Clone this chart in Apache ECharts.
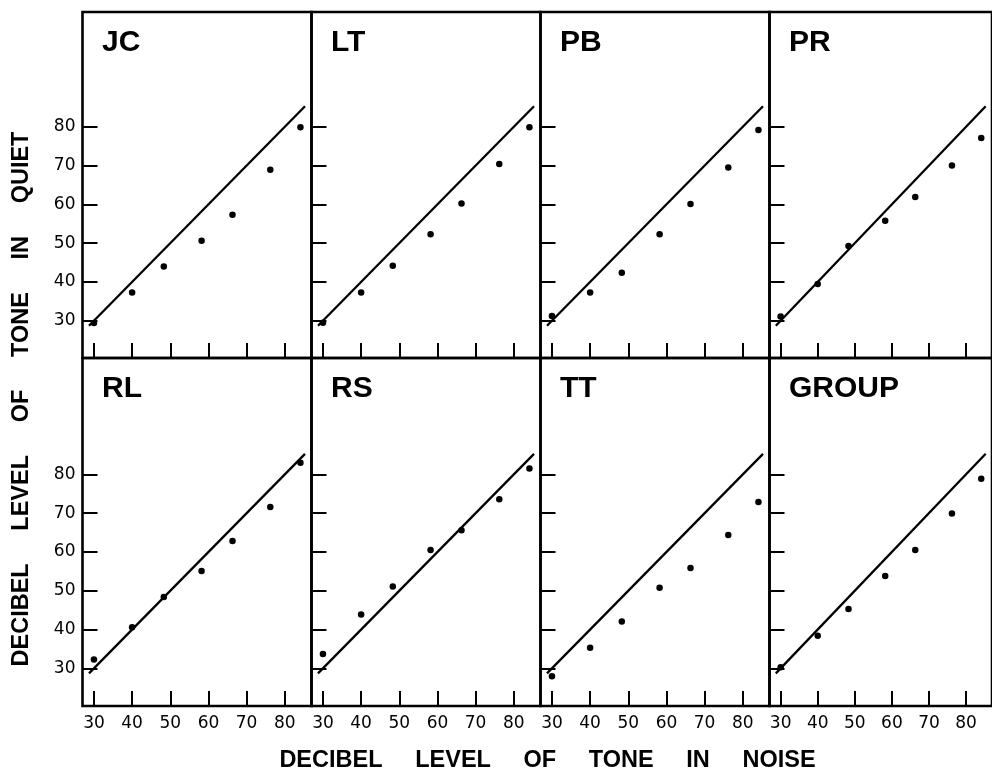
<!DOCTYPE html>
<html>
<head>
<meta charset="utf-8">
<script src="https://cdn.jsdelivr.net/npm/echarts@6/dist/echarts.min.js"></script>
<style>html,body{margin:0;padding:0;background:#fff}#c{width:992px;height:770px}</style>
</head>
<body>
<div id="c"></div>
<script>
// ---- data ----
const panelNames = ['JC', 'LT', 'PB', 'PR', 'RL', 'RS', 'TT', 'GROUP'];
const noiseLevels = [30, 40, 48.3, 58.2, 66.3, 76.2, 84.1];
const quietJC    = [29.4, 37.3, 44.0, 50.6, 57.3, 68.9, 79.9];
const quietLT    = [29.5, 37.3, 44.2, 52.3, 60.2, 70.4, 79.9];
const quietPB    = [31.2, 37.3, 42.4, 52.3, 60.1, 69.5, 79.2];
const quietPR    = [31.1, 39.5, 49.3, 55.8, 61.9, 70.0, 77.1];
const quietRL    = [32.3, 40.6, 48.4, 55.1, 62.8, 71.6, 83.0];
const quietRS    = [33.7, 43.9, 51.1, 60.5, 65.6, 73.6, 81.5];
const quietTT    = [28.0, 35.3, 42.1, 50.8, 55.9, 64.4, 72.9];
const quietGROUP = [30.3, 38.4, 45.3, 53.8, 60.5, 69.9, 78.9];
const identityLine = [28.7, 85.3];
const tickValues = [30, 40, 50, 60, 70, 80];
const xTitle = 'DECIBEL     LEVEL     OF     TONE     IN     NOISE';
const yTitle = 'DECIBEL     LEVEL     OF     TONE     IN     QUIET';

const quietSets = [quietJC, quietLT, quietPB, quietPR, quietRL, quietRS, quietTT, quietGROUP];

// ---- layout ----
const colLeft = [82.5, 311.5, 540.5, 769.5];
const colWidth = 229;
const rowTop = [12, 358];
const rowHeight = [346, 348];
const yRange = [[20.4, 109.6], [20.3, 110.0]];
const xRange = [27, 87];
const boldFont = 'Liberation Sans, Arial, Helvetica, sans-serif';
const numFont = 'DejaVu Sans, sans-serif';

const grids = [], xAxes = [], yAxes = [], series = [], titles = [];
for (let i = 0; i < 8; i++) {
  const r = Math.floor(i / 4), c = i % 4;
  grids.push({
    left: colLeft[c], top: rowTop[r], width: colWidth, height: rowHeight[r],
    show: true, borderColor: '#000', borderWidth: 2.6, backgroundColor: 'transparent',
    containLabel: false
  });
  xAxes.push({
    type: 'value', gridIndex: i, min: xRange[0], max: xRange[1],
    axisLine: { show: false },
    splitLine: { show: false },
    axisTick: { show: true, inside: true, length: 15, lineStyle: { color: '#000', width: 2 }, customValues: tickValues },
    axisLabel: { show: r === 1, customValues: tickValues, margin: 9, color: '#000', fontSize: 17, fontFamily: numFont }
  });
  yAxes.push({
    type: 'value', gridIndex: i, min: yRange[r][0], max: yRange[r][1],
    axisLine: { show: false },
    splitLine: { show: false },
    axisTick: { show: true, inside: true, length: 15, lineStyle: { color: '#000', width: 2 }, customValues: tickValues },
    axisLabel: { show: c === 0, customValues: tickValues, margin: 7, color: '#000', fontSize: 17, fontFamily: numFont }
  });
  series.push({
    type: 'line', xAxisIndex: i, yAxisIndex: i,
    data: identityLine.map(v => [v, v]),
    symbol: 'none', lineStyle: { color: '#000', width: 2.3 }, silent: true, animation: false
  });
  series.push({
    type: 'scatter', xAxisIndex: i, yAxisIndex: i,
    data: noiseLevels.map((x, k) => [x, quietSets[i][k]]),
    symbol: 'circle', symbolSize: 6.5, itemStyle: { color: '#000', opacity: 1 }, animation: false
  });
  titles.push({
    text: panelNames[i], left: colLeft[c] + 19.5, top: rowTop[r] + 16, padding: 0,
    textStyle: { fontFamily: boldFont, fontWeight: 'bold', fontSize: 30, color: '#000' }
  });
}

const chart = echarts.init(document.getElementById('c'), null, { renderer: 'canvas' });
chart.setOption({
  animation: false,
  backgroundColor: '#fff',
  title: titles,
  grid: grids,
  xAxis: xAxes,
  yAxis: yAxes,
  series: series,
  graphic: [
    {
      type: 'text', x: 547.5, y: 761,
      style: { text: xTitle, fill: '#000', font: 'bold 23.5px ' + boldFont, align: 'center', verticalAlign: 'middle' }
    },
    {
      type: 'text', x: 22, y: 399, rotation: Math.PI / 2,
      style: { text: yTitle, fill: '#000', font: 'bold 23.5px ' + boldFont, align: 'center', verticalAlign: 'middle' }
    }
  ]
});
</script>
</body>
</html>
